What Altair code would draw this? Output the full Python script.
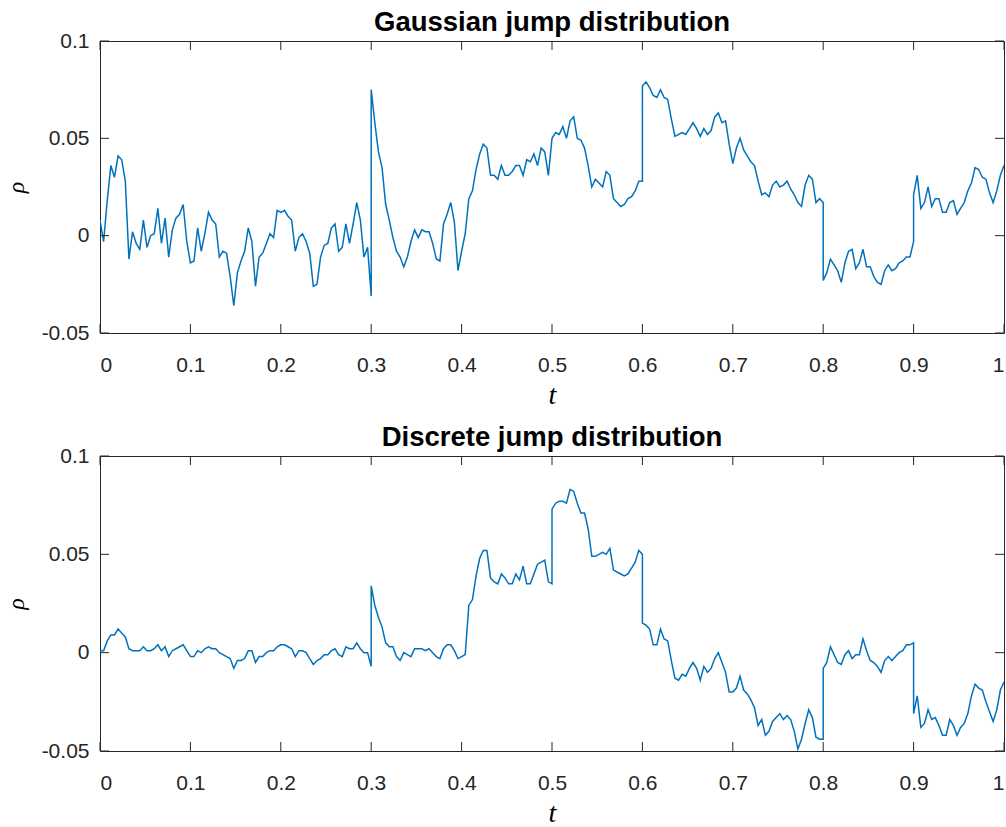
import altair as alt
import pandas as pd

# Each panel is stored as ten intervals of width 0.1 in t; every interval
# holds 26 samples spaced 0.004 apart, the last one sharing its t with the
# first sample of the next interval, so jumps at t = 0.1k are drawn vertically.
STEP = 0.004

gaussian_segments = [
    [0.008, -0.003, 0.018, 0.036, 0.030, 0.041, 0.039, 0.028, -0.012, 0.002, -0.004, -0.007, 0.008,
     -0.006, 0.000, 0.001, 0.014, -0.004, 0.009, -0.011, 0.003, 0.009, 0.011, 0.016, -0.003, -0.014],
    [-0.014, -0.013, 0.004, -0.008, 0.001, 0.012, 0.008, 0.006, -0.011, -0.008, -0.009, -0.021, -0.036,
     -0.019, -0.013, -0.008, 0.004, -0.003, -0.026, -0.011, -0.009, -0.004, 0.001, -0.001, 0.013, 0.012],
    [0.012, 0.013, 0.010, 0.008, -0.008, -0.001, 0.001, -0.003, -0.009, -0.026, -0.025, -0.011, -0.005,
     -0.004, 0.004, 0.006, -0.008, -0.006, 0.006, -0.004, 0.006, 0.017, 0.008, -0.011, -0.006, -0.031],
    [0.075, 0.058, 0.043, 0.035, 0.016, 0.008, -0.001, -0.008, -0.011, -0.016, -0.011, -0.003, 0.003,
     -0.001, 0.003, 0.002, 0.002, -0.004, -0.012, -0.013, 0.006, 0.011, 0.017, 0.007, -0.018, -0.008],
    [-0.008, 0.001, 0.019, 0.023, 0.034, 0.042, 0.047, 0.045, 0.031, 0.031, 0.029, 0.036, 0.031,
     0.031, 0.033, 0.036, 0.036, 0.031, 0.039, 0.038, 0.042, 0.036, 0.045, 0.043, 0.031, 0.050],
    [0.050, 0.053, 0.052, 0.056, 0.050, 0.059, 0.061, 0.050, 0.049, 0.045, 0.036, 0.025, 0.029,
     0.027, 0.025, 0.033, 0.031, 0.019, 0.017, 0.015, 0.016, 0.019, 0.020, 0.023, 0.028, 0.028],
    [0.077, 0.079, 0.076, 0.072, 0.071, 0.075, 0.071, 0.070, 0.060, 0.051, 0.052, 0.053, 0.052,
     0.055, 0.058, 0.055, 0.051, 0.055, 0.052, 0.054, 0.061, 0.063, 0.058, 0.059, 0.047, 0.037],
    [0.037, 0.045, 0.050, 0.044, 0.041, 0.038, 0.036, 0.028, 0.021, 0.022, 0.020, 0.026, 0.028,
     0.025, 0.026, 0.028, 0.024, 0.021, 0.017, 0.015, 0.026, 0.031, 0.029, 0.017, 0.019, 0.017],
    [-0.023, -0.019, -0.012, -0.015, -0.018, -0.024, -0.014, -0.008, -0.007, -0.017, -0.014, -0.007, -0.016,
     -0.016, -0.021, -0.024, -0.025, -0.018, -0.015, -0.018, -0.017, -0.014, -0.013, -0.011, -0.011, -0.003],
    [0.021, 0.031, 0.014, 0.017, 0.025, 0.015, 0.019, 0.019, 0.012, 0.012, 0.017, 0.018, 0.011,
     0.014, 0.017, 0.023, 0.027, 0.035, 0.034, 0.030, 0.029, 0.022, 0.017, 0.023, 0.031, 0.036],
]

discrete_segments = [
    [0.001, 0.001, 0.006, 0.009, 0.009, 0.012, 0.010, 0.008, 0.002, 0.001, 0.001, 0.001, 0.003,
     0.001, 0.001, 0.002, 0.004, 0.001, 0.003, -0.002, 0.001, 0.002, 0.003, 0.004, 0.001, -0.002],
    [-0.002, -0.002, 0.001, 0.000, 0.002, 0.003, 0.002, 0.002, 0.000, -0.001, -0.002, -0.003, -0.008,
     -0.004, -0.004, -0.003, 0.001, 0.001, -0.005, -0.002, -0.002, 0.000, 0.001, 0.001, 0.003, 0.004],
    [0.004, 0.004, 0.003, 0.002, -0.002, 0.001, 0.001, 0.000, -0.003, -0.006, -0.004, -0.003, -0.001,
     -0.001, 0.001, 0.002, -0.001, -0.002, 0.003, 0.002, 0.002, 0.005, 0.002, 0.000, 0.000, -0.007],
    [0.034, 0.024, 0.018, 0.013, 0.005, 0.003, 0.003, -0.002, -0.004, 0.000, -0.001, -0.002, 0.002,
     0.002, 0.002, 0.001, 0.002, 0.000, -0.002, -0.003, 0.002, 0.004, 0.004, 0.001, -0.003, -0.002],
    [-0.002, -0.001, 0.024, 0.027, 0.039, 0.048, 0.052, 0.052, 0.038, 0.036, 0.035, 0.040, 0.038,
     0.035, 0.035, 0.040, 0.037, 0.044, 0.035, 0.035, 0.040, 0.045, 0.046, 0.047, 0.036, 0.035],
    [0.073, 0.076, 0.077, 0.077, 0.076, 0.083, 0.082, 0.076, 0.071, 0.071, 0.063, 0.049, 0.049,
     0.050, 0.051, 0.050, 0.053, 0.042, 0.041, 0.040, 0.039, 0.040, 0.043, 0.046, 0.052, 0.050],
    [0.015, 0.014, 0.012, 0.004, 0.004, 0.012, 0.007, 0.006, -0.004, -0.013, -0.014, -0.011, -0.012,
     -0.008, -0.005, -0.008, -0.014, -0.007, -0.010, -0.008, -0.003, 0.000, -0.005, -0.010, -0.020, -0.020],
    [-0.020, -0.018, -0.012, -0.019, -0.021, -0.024, -0.028, -0.037, -0.034, -0.042, -0.040, -0.035, -0.033,
     -0.031, -0.034, -0.032, -0.034, -0.040, -0.049, -0.044, -0.036, -0.029, -0.033, -0.043, -0.044, -0.044],
    [-0.008, -0.005, 0.003, -0.001, -0.005, -0.006, -0.001, 0.001, -0.003, -0.001, -0.001, 0.007, 0.001,
     -0.004, -0.005, -0.007, -0.010, -0.004, -0.002, -0.004, -0.002, 0.000, 0.001, 0.004, 0.004, 0.005],
    [-0.031, -0.022, -0.038, -0.036, -0.029, -0.034, -0.033, -0.037, -0.042, -0.042, -0.034, -0.037, -0.042,
     -0.038, -0.036, -0.031, -0.022, -0.016, -0.018, -0.019, -0.025, -0.030, -0.035, -0.029, -0.019, -0.015],
]

x_ticks = [0, 0.1, 0.2, 0.3, 0.4, 0.5, 0.6, 0.7, 0.8, 0.9, 1]
y_ticks = [-0.05, 0, 0.05, 0.1]

LINE_COLOR = "#0072BD"
AXIS_COLOR = "#262626"
W = 904
TICK_LEN = 9


def to_frame(segments):
    rows = []
    for k, seg in enumerate(segments):
        for i, v in enumerate(seg):
            rows.append({"t": round(0.1 * k + STEP * i, 4), "rho": v, "order": k * len(seg) + i})
    return pd.DataFrame(rows)


def panel(segments, title, H):
    x_axis = alt.Axis(values=x_ticks, title="t", labelExpr="format(datum.value, '~g')")
    y_axis = alt.Axis(
        values=y_ticks,
        title="ρ",
        labelExpr="datum.value < 0 ? '-' + format(-datum.value, '~g') : format(datum.value, '~g')",
    )
    x_scale = alt.Scale(domain=[0, 1], nice=False, zero=False)
    y_scale = alt.Scale(domain=[-0.05, 0.1], nice=False, zero=False)

    line = alt.Chart(to_frame(segments)).mark_line(
        color=LINE_COLOR, strokeWidth=1.5, clip=True
    ).encode(
        x=alt.X("t:Q", scale=x_scale, axis=x_axis),
        y=alt.Y("rho:Q", scale=y_scale, axis=y_axis),
        order="order:Q",
    )

    xt = pd.DataFrame({"t": x_ticks})
    yt = pd.DataFrame({"rho": y_ticks})
    rule = dict(color=AXIS_COLOR, strokeWidth=1)

    bottom_ticks = alt.Chart(xt).mark_rule(**rule).encode(
        x=alt.X("t:Q", scale=x_scale, axis=x_axis), y=alt.value(H), y2=alt.value(H - TICK_LEN)
    )
    top_ticks = alt.Chart(xt).mark_rule(**rule).encode(
        x=alt.X("t:Q", scale=x_scale, axis=x_axis), y=alt.value(0), y2=alt.value(TICK_LEN)
    )
    left_ticks = alt.Chart(yt).mark_rule(**rule).encode(
        y=alt.Y("rho:Q", scale=y_scale, axis=y_axis), x=alt.value(0), x2=alt.value(TICK_LEN)
    )
    right_ticks = alt.Chart(yt).mark_rule(**rule).encode(
        y=alt.Y("rho:Q", scale=y_scale, axis=y_axis), x=alt.value(W - TICK_LEN), x2=alt.value(W)
    )

    return alt.layer(line, bottom_ticks, top_ticks, left_ticks, right_ticks).properties(
        width=W,
        height=H,
        title=alt.TitleParams(
            text=title,
            font="Liberation Sans",
            fontSize=27.5,
            fontWeight="bold",
            color="black",
            anchor="middle",
            offset=-6,
        ),
    )


top = panel(gaussian_segments, "Gaussian jump distribution", 292)
bottom = panel(discrete_segments, "Discrete jump distribution", 295)

chart = (
    alt.vconcat(top, bottom, spacing=13)
    .properties(padding={"left": 3, "top": 8, "right": 0, "bottom": 0}, background="white")
    .configure_view(stroke=AXIS_COLOR, strokeWidth=1)
    .configure_axis(
        domain=False,
        ticks=False,
        tickSize=0,
        grid=False,
        labelFont="Liberation Sans",
        labelFontSize=21,
        labelColor=AXIS_COLOR,
        titleFont="Liberation Serif",
        titleFontStyle="italic",
        titleFontWeight="normal",
        titleColor="black",
    )
    .configure_axisX(labelPadding=21, titleFontSize=28, titlePadding=6)
    .configure_axisY(labelPadding=11, titleFontSize=24, titlePadding=13)
)

chart.save("out.html", embed_options={"renderer": "svg", "actions": False})
